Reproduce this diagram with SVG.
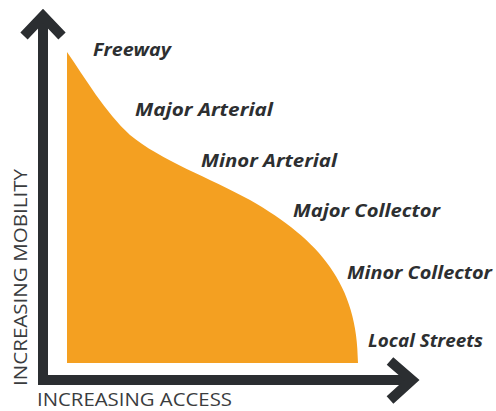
<svg xmlns="http://www.w3.org/2000/svg" width="496" height="411" viewBox="0 0 496 411">
<style>
.lbl{font-family:"Open Sans","Liberation Sans",sans-serif;font-weight:bold;font-style:italic;font-size:18px;fill:#2d2f31}
.ax{font-family:"Open Sans","Liberation Sans",sans-serif;font-size:18px;fill:#3a3c3e}
.axis{stroke:#2b2e31;fill:none}
</style>
<rect width="496" height="411" fill="#ffffff"/>
<g id="area">
<path d="M67,52 C85,78 105,112 130,135 C160,160 210,178 250,200 C320,240 358,285 358,363 L67,363 Z" fill="#f4a021"/>
</g>
<g id="connectors">
<path class="axis" d="M43,16 V380 H412" stroke-width="10"/>
<path class="axis" d="M24,36 L43,16 L62,36" stroke-width="10" stroke-linecap="butt"/>
<path class="axis" d="M390,361 L412,380 L390,400" stroke-width="10"/>
</g>
<g id="labels">
<text class="lbl" x="93" y="56" textLength="78" lengthAdjust="spacingAndGlyphs">Freeway</text>
<text class="lbl" x="135" y="116" textLength="138" lengthAdjust="spacingAndGlyphs">Major Arterial</text>
<text class="lbl" x="201" y="167" textLength="136" lengthAdjust="spacingAndGlyphs">Minor Arterial</text>
<text class="lbl" x="293" y="217" textLength="147" lengthAdjust="spacingAndGlyphs">Major Collector</text>
<text class="lbl" x="347" y="279" textLength="145" lengthAdjust="spacingAndGlyphs">Minor Collector</text>
<text class="lbl" x="368" y="347" textLength="115" lengthAdjust="spacingAndGlyphs">Local Streets</text>
<text class="ax" x="37" y="406" textLength="195" lengthAdjust="spacingAndGlyphs">INCREASING ACCESS</text>
<text class="ax" transform="translate(27,386) rotate(-90)" textLength="217" lengthAdjust="spacingAndGlyphs">INCREASING MOBILITY</text>
</g>
</svg>
